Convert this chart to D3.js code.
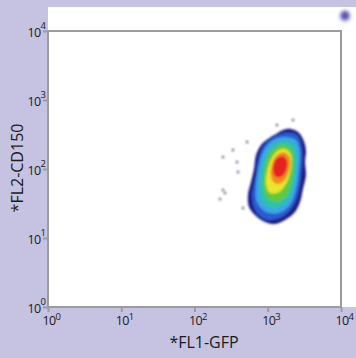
<!DOCTYPE html>
<html><head><meta charset="utf-8">
<script src="https://cdn.jsdelivr.net/npm/d3@7"></script>
<style>body{margin:0;background:#c5c3e1;} svg{display:block}</style>
</head><body><script>
// Axis ticks (decades) and labels
const xTicks = [1, 10, 100, 1000, 10000];
const yTicks = [1, 10, 100, 1000, 10000];
const tickExponents = ["0", "1", "2", "3", "4"];
const xTitle = "*FL1-GFP";
const yTitle = "*FL2-CD150";

// Density contour levels, points as [log10(FL1), log10(FL2)], outer -> inner
const level1 = [[3.208,2.565],[3.317,2.580],[3.413,2.536],[3.481,2.435],[3.522,2.275],[3.509,2.101],[3.522,1.913],[3.481,1.710],[3.440,1.522],[3.372,1.377],[3.236,1.261],[3.099,1.203],[2.962,1.232],[2.840,1.319],[2.744,1.449],[2.730,1.623],[2.771,1.812],[2.812,2.000],[2.840,2.203],[2.908,2.348],[3.003,2.435],[3.113,2.507]];
const level2 = [[3.222,2.522],[3.399,2.493],[3.468,2.304],[3.468,2.058],[3.440,1.768],[3.372,1.507],[3.222,1.319],[3.003,1.261],[2.840,1.377],[2.785,1.609],[2.840,1.913],[2.881,2.188],[2.976,2.377]];
const level3 = [[3.236,2.464],[3.386,2.420],[3.440,2.246],[3.427,1.986],[3.386,1.696],[3.304,1.478],[3.154,1.362],[2.976,1.377],[2.853,1.522],[2.840,1.768],[2.881,2.058],[2.949,2.275],[3.072,2.420]];
const level4 = [[3.236,2.406],[3.358,2.348],[3.399,2.174],[3.386,1.913],[3.331,1.652],[3.236,1.493],[3.086,1.435],[2.949,1.493],[2.894,1.696],[2.921,1.986],[2.976,2.217],[3.099,2.362]];
const level5 = [[3.236,2.348],[3.331,2.275],[3.358,2.101],[3.331,1.841],[3.263,1.623],[3.140,1.522],[3.017,1.565],[2.949,1.725],[2.962,1.986],[3.017,2.188],[3.126,2.319]];
const level6 = [[3.236,2.290],[3.317,2.203],[3.317,2.014],[3.263,1.812],[3.154,1.667],[3.031,1.652],[2.976,1.783],[3.003,2.014],[3.072,2.188],[3.154,2.275]];
const level7 = [[3.222,2.246],[3.304,2.159],[3.290,1.971],[3.222,1.826],[3.113,1.783],[3.044,1.884],[3.058,2.072],[3.126,2.203]];
const level8 = [[3.208,2.188],[3.263,2.116],[3.249,1.971],[3.181,1.884],[3.099,1.899],[3.072,2.014],[3.113,2.145]];
const levelColors = ["#1d1c86", "#2a5ccf", "#3aa6e8", "#2fc3a6", "#62c93e", "#ece52a", "#f18a22", "#e52420"];
const levels = [level1, level2, level3, level4, level5, level6, level7, level8];

// Sparse outlier events [log10(FL1), log10(FL2)]
const outliers = [[3.126,2.638],[3.345,2.710],[2.717,2.391],[2.526,2.275],[2.389,2.174],[2.580,2.101],[2.594,1.957],[2.389,1.696],[2.416,1.652],[2.348,1.565],[2.662,1.435]];

const W = 356, H = 358;
const svg = d3.select("body").append("svg").attr("width", W).attr("height", H);
svg.append("rect").attr("width", W).attr("height", H).attr("fill", "#c5c3e1");

const defs = svg.append("defs");
defs.append("filter").attr("id", "soft").attr("x", "-20%").attr("y", "-20%").attr("width", "140%").attr("height", "140%")
  .append("feGaussianBlur").attr("stdDeviation", 0.9);
defs.append("filter").attr("id", "blurBig").attr("x", "-100%").attr("y", "-100%").attr("width", "300%").attr("height", "300%")
  .append("feGaussianBlur").attr("stdDeviation", 2);

// white panel
svg.append("rect").attr("x", 48).attr("y", 7).attr("width", W - 48).attr("height", 300).attr("fill", "#ffffff");

const x = d3.scaleLog().domain([1, 1e4]).range([48, 341]);
const y = d3.scaleLog().domain([1, 1e4]).range([307, 31]);

// corner mark
svg.append("circle").attr("cx", 345).attr("cy", 16).attr("r", 4.5).attr("fill", "#4a46a6").attr("filter", "url(#blurBig)");
svg.append("text").attr("x", 345).attr("y", 23).attr("text-anchor", "middle").attr("font-size", 18)
  .attr("font-family", "DejaVu Sans").attr("fill", "#5a56b0").attr("opacity", 0.7).attr("filter", "url(#soft)").text("*");

const line = d3.line().x(d => x(Math.pow(10, d[0]))).y(d => y(Math.pow(10, d[1]))).curve(d3.curveCatmullRomClosed.alpha(0.5));
const g = svg.append("g").attr("filter", "url(#soft)");
levels.forEach((lv, i) => {
  g.append("path").attr("d", line(lv)).attr("fill", levelColors[i]);
});

svg.append("g").selectAll("circle").data(outliers).join("circle")
  .attr("cx", d => x(Math.pow(10, d[0]))).attr("cy", d => y(Math.pow(10, d[1])))
  .attr("r", 1.5).attr("fill", "#687093").attr("opacity", 0.85).attr("filter", "url(#soft)");

// frame
svg.append("rect").attr("x", 48).attr("y", 31).attr("width", 293).attr("height", 276)
  .attr("fill", "none").attr("stroke", "#9c9c9c").attr("stroke-width", 2);

// axes ticks
const xa = svg.append("g").attr("transform", "translate(0,307)")
  .call(d3.axisBottom(x).tickValues(xTicks).tickSize(5).tickFormat(""));
const ya = svg.append("g").attr("transform", "translate(48,0)")
  .call(d3.axisLeft(y).tickValues(yTicks).tickSize(5).tickFormat(""));
[xa, ya].forEach(a => {
  a.select(".domain").remove();
  a.selectAll("line").attr("stroke", "#9c9c9c").attr("stroke-width", 2);
});

const font = "'Open Sans', 'Noto Sans', sans-serif";
// x tick labels
xTicks.forEach((t, i) => {
  svg.append("text").attr("x", x(t) + 1).attr("y", 325).attr("text-anchor", "middle")
    .attr("font-family", font).attr("font-size", 12.5).attr("fill", "#1a1a1a").attr("letter-spacing", -0.6).text("10");
  svg.append("text").attr("x", x(t) + 7.5).attr("y", 319.5).attr("font-family", font).attr("font-size", 9.5)
    .attr("fill", "#1a1a1a").text(tickExponents[i]);
});
// y tick labels
yTicks.forEach((t, i) => {
  const tx = svg.append("text").attr("x", 46).attr("y", y(t) + 5.5).attr("text-anchor", "end")
    .attr("font-family", font).attr("font-size", 12.5).attr("fill", "#1a1a1a");
  tx.append("tspan").attr("letter-spacing", -0.6).text("10");
  tx.append("tspan").attr("dy", -8).attr("font-size", 9.5).text(tickExponents[i]);
});

svg.append("text").attr("x", 204).attr("y", 348).attr("text-anchor", "middle")
  .attr("font-family", font).attr("font-size", 16).attr("fill", "#1a1a1a").text(xTitle);
svg.append("text").attr("transform", "translate(22.5,168) rotate(-90)").attr("text-anchor", "middle")
  .attr("font-family", font).attr("font-size", 16).attr("fill", "#1a1a1a").text(yTitle);
</script></body></html>
